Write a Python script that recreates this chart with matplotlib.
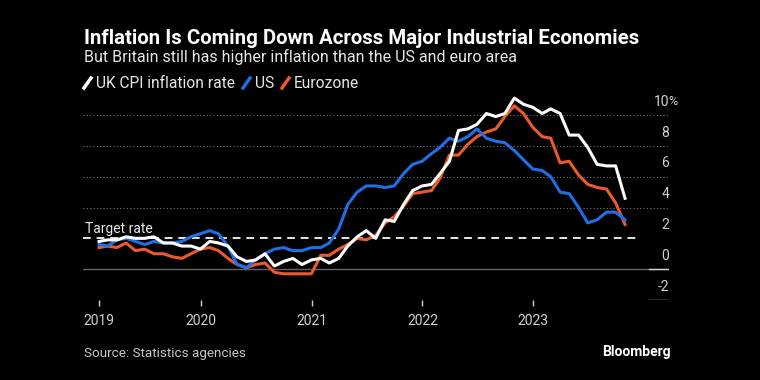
import numpy as np
import pandas as pd
import matplotlib
matplotlib.use('Agg')
from matplotlib import pyplot as plt
from matplotlib.lines import Line2D

# monthly year-over-year inflation, Jan 2019 - Oct 2023
dates = pd.date_range('2019-01-31', periods=58, freq='ME')
uk = [1.8, 1.9, 1.9, 2.1, 2.0, 2.0, 2.1, 1.7, 1.7, 1.5, 1.5, 1.3,
      1.8, 1.7, 1.5, 0.8, 0.5, 0.6, 1.0, 0.2, 0.5, 0.7, 0.3, 0.6,
      0.7, 0.4, 0.7, 1.5, 2.1, 2.5, 2.0, 3.2, 3.1, 4.2, 5.1, 5.4,
      5.5, 6.2, 7.0, 9.0, 9.1, 9.4, 10.1, 9.9, 10.1, 11.1, 10.7, 10.5,
      10.1, 10.4, 10.1, 8.7, 8.7, 7.9, 6.8, 6.7, 6.7, 4.6]
us = [1.6, 1.5, 1.9, 2.0, 1.8, 1.6, 1.8, 1.7, 1.7, 1.8, 2.1, 2.3,
      2.5, 2.3, 1.5, 0.3, 0.1, 0.6, 1.0, 1.3, 1.4, 1.2, 1.2, 1.4,
      1.4, 1.7, 2.6, 4.2, 5.0, 5.4, 5.4, 5.3, 5.4, 6.2, 6.8, 7.0,
      7.5, 7.9, 8.5, 8.3, 8.6, 9.1, 8.5, 8.3, 8.2, 7.7, 7.1, 6.5,
      6.4, 6.0, 5.0, 4.9, 4.0, 3.0, 3.2, 3.7, 3.7, 3.2]
ez = [1.4, 1.5, 1.4, 1.7, 1.2, 1.3, 1.0, 1.0, 0.8, 0.7, 1.0, 1.3,
      1.4, 1.2, 0.7, 0.3, 0.1, 0.3, 0.4, -0.2, -0.3, -0.3, -0.3, -0.3,
      0.9, 0.9, 1.3, 1.6, 2.0, 1.9, 2.2, 3.0, 3.4, 4.1, 4.9, 5.0,
      5.1, 5.9, 7.4, 7.4, 8.1, 8.6, 8.9, 9.1, 9.9, 10.6, 10.1, 9.2,
      8.6, 8.5, 6.9, 7.0, 6.1, 5.5, 5.3, 5.2, 4.3, 2.9]

series_names = ['UK CPI inflation rate', 'US', 'Eurozone']
colors = ['#ffffff', '#1f6fe6', '#ea5a2c']
year_labels = ['2019', '2020', '2021', '2022', '2023']
ytick_vals = [10, 8, 6, 4, 2, 0, -2]
ytick_labels = ['10', '8', '6', '4', '2', '0', '-2']
target = 2.0

plt.rcParams['font.family'] = ['Roboto', 'DejaVu Sans']
bg = '#000000'
grey = '#d0d0d0'

fig = plt.figure(figsize=(7.6, 3.8), dpi=100, facecolor=bg)
ax = fig.add_axes([83/760, 1 - 300/380, 586/760, 205/380])
ax.set_facecolor(bg)

for v in [4, 6, 8, 10]:
    ax.axhline(v, color='#777777', linestyle=(0, (1, 2)), linewidth=0.8, zorder=1)
ax.axhline(0, color='#666666', linewidth=1.0, zorder=1)
ax.axhline(0, xmin=0.966, xmax=1.0, color=grey, linewidth=1.0, zorder=2)
ax.axhline(-2, xmin=0.966, xmax=1.0, color=grey, linewidth=1.0, zorder=2)
ax.axhline(target, xmax=0.951, color='#e6e6e6', linestyle=(0, (4, 3)), linewidth=1.4, zorder=2)

ax.plot(dates, ez, color=colors[2], linewidth=2.2, zorder=3)
ax.plot(dates, us, color=colors[1], linewidth=2.2, zorder=4)
ax.plot(dates, uk, color=colors[0], linewidth=2.2, zorder=5)

ax.set_xlim(pd.Timestamp('2018-12-09'), pd.Timestamp('2024-03-24'))
ax.set_ylim(-2, 11.3)

tick_dates = [dates[0]] + [pd.Timestamp(y + '-01-01') for y in year_labels[1:]]
ax.set_xticks(tick_dates)
ax.set_xticklabels(year_labels, color=grey, fontsize=10)
ax.tick_params(axis='x', length=4, width=1, color=grey, pad=6)
ax.set_yticks([])
for s in ax.spines.values():
    s.set_visible(False)

for v, lab in zip(ytick_vals, ytick_labels):
    ax.annotate(lab, xy=(1.0, v), xycoords=('axes fraction', 'data'),
                xytext=(0, 9.5), textcoords='offset points',
                ha='right', va='center', color=grey, fontsize=10)
ax.annotate('%', xy=(1.0, 10), xycoords=('axes fraction', 'data'),
            xytext=(-0.8, 9.5), textcoords='offset points',
            ha='left', va='center', color=grey, fontsize=9)

ax.annotate('Target rate', xy=(0.003, target), xycoords=('axes fraction', 'data'),
            xytext=(0, 6.5), textcoords='offset points',
            ha='left', va='center', color='#e6e6e6', fontsize=10)

fig.text(84/760, 1 - 38/380, 'Inflation Is Coming Down Across Major Industrial Economies',
         color='white', fontsize=14.7, fontweight='bold', ha='left', va='center')
fig.text(84/760, 1 - 57/380, 'But Britain still has higher inflation than the US and euro area',
         color='#e6e6e6', fontsize=11.5, ha='left', va='center')

# legend with slanted swatches
leg_x = [84, 243, 282]
for x0, name, c in zip(leg_x, series_names, colors):
    fig.add_artist(Line2D([x0/760, (x0 + 7)/760], [1 - 88/380, 1 - 78/380],
                          color=c, linewidth=2.5, transform=fig.transFigure))
    fig.text((x0 + 12)/760, 1 - 83/380, name, color='#e6e6e6', fontsize=11.2,
             ha='left', va='center')

fig.text(84/760, 1 - 353/380, 'Source: Statistics agencies', color='#c8c8c8',
         fontsize=9.7, ha='left', va='center')
fig.text(671/760, 1 - 352/380, 'Bloomberg', color='white', fontsize=10,
         fontweight='bold', ha='right', va='center')

fig.savefig('out.png', dpi=100, facecolor=bg)
